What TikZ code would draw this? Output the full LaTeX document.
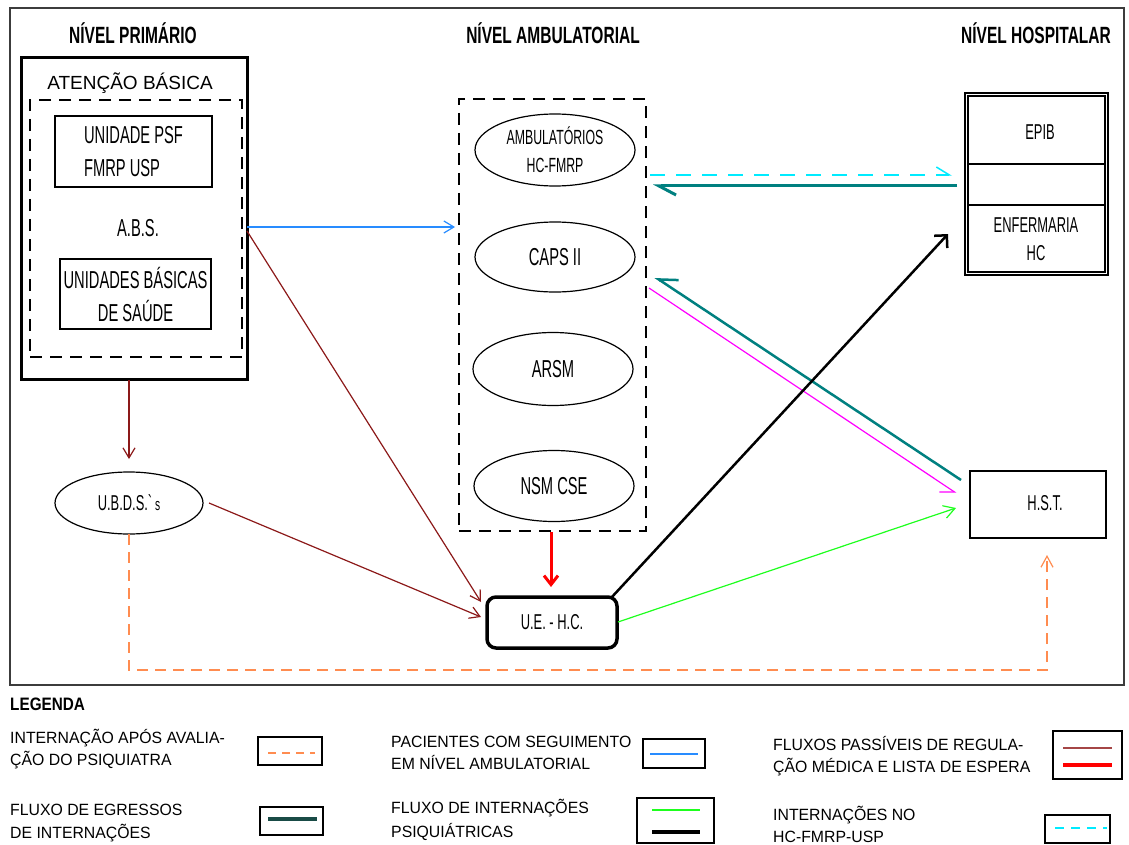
\documentclass[tikz,border=0pt]{standalone}
\usepackage{fontspec}
\setmainfont{Liberation Sans}
\newfontfamily\cnd[FakeStretch=0.6]{Liberation Sans}
\newfontfamily\hdf[FakeStretch=0.66]{Liberation Sans}
\newfontfamily\lgf[FakeStretch=0.85]{Liberation Sans}
\newfontfamily\lgtext[FakeStretch=0.97]{Liberation Sans}
\usetikzlibrary{arrows.meta,shapes.geometric}

\definecolor{brownline}{RGB}{140,25,25}
\definecolor{legbrown}{RGB}{165,70,70}
\definecolor{flowred}{RGB}{255,0,0}
\definecolor{flowblue}{RGB}{40,140,255}
\definecolor{floworange}{RGB}{255,140,80}
\definecolor{flowteal}{RGB}{0,128,128}
\definecolor{legteal}{RGB}{25,75,70}
\definecolor{flowcyan}{RGB}{0,235,255}
\definecolor{flowgreen}{RGB}{30,255,30}
\definecolor{flowmag}{RGB}{255,0,255}
\definecolor{framegray}{RGB}{60,60,60}

\begin{document}
\begin{tikzpicture}[x=1pt,y=-1pt,
  box/.style={draw, inner sep=0pt, outer sep=0pt},
  oval/.style={draw, ellipse, inner sep=0pt, outer sep=0pt, line width=1.2pt},
  dbox/.style={draw, inner sep=0pt, outer sep=0pt, line width=1.3pt, dash pattern=on 12pt off 8pt},
  head/.style={font=\hdf\bfseries\fontsize{23.5}{26}\selectfont, inner sep=0pt},
  body/.style={font=\cnd\fontsize{24.5}{33}\selectfont, inner sep=0pt},
  small/.style={font=\cnd\fontsize{21.5}{28}\selectfont, inner sep=0pt},
  plain/.style={font=\fontsize{19}{22}\selectfont, inner sep=0pt},
  leg/.style={font=\lgtext\fontsize{16.3}{20}\selectfont, inner sep=0pt, anchor=base west},
  legbox/.style={draw, line width=1.4pt, inner sep=0pt, outer sep=0pt},
  thin/.style={line width=1.2pt},
  vtip/.style={-{Straight Barb[length=10pt,width=12pt]}}
]
\useasboundingbox (0,0) rectangle (1129,845);
\fill[white] (0,0) rectangle (1129,845);

% outer frame
\draw[framegray, line width=1.5pt] (10,8) rectangle (1124,685);

% column headings
\node[head] (hprim) at (133,33) {NÍVEL PRIMÁRIO};
\node[head] (hamb) at (553,33) {NÍVEL AMBULATORIAL};
\node[head] (hhosp) at (1036,33) {NÍVEL HOSPITALAR};

% primary level
\node[box, line width=3pt, minimum width=226pt, minimum height=321pt] (atb) at (134,218.5) {};
\node[plain] (atbt) at (130,83) {ATENÇÃO BÁSICA};
\node[dbox, minimum width=212pt, minimum height=257pt] (abs) at (136,228.5) {};
\node[box, line width=1.3pt, minimum width=157pt, minimum height=71pt, body, align=left] (psf) at (133.5,151.5) {UNIDADE PSF\\FMRP USP};
\node[body] (abst) at (138,228) {A.B.S.};
\node[box, line width=1.3pt, minimum width=151pt, minimum height=70pt, body, align=center] (ubs) at (135.5,294) {UNIDADES BÁSICAS\\DE SAÚDE};
\node[oval, minimum width=148pt, minimum height=62pt, small] (ubds) at (129,503) {U.B.D.S.\textasciigrave{\fontsize{17}{20}\selectfont s}};

% ambulatory level
\node[dbox, minimum width=187pt, minimum height=432pt] (amb) at (552.5,315) {};
\node[oval, minimum width=160pt, minimum height=72pt, font=\cnd\fontsize{20.5}{28}\selectfont, align=center] (ahc) at (555,150) {AMBULATÓRIOS\\HC-FMRP};
\node[oval, minimum width=160pt, minimum height=70pt, body] (caps) at (555,257) {CAPS II};
\node[oval, minimum width=160pt, minimum height=73pt, body] (arsm) at (553,369) {ARSM};
\node[oval, minimum width=160pt, minimum height=71pt, body] (nsm) at (554,486) {NSM CSE};
\node[box, line width=3.5pt, rounded corners=9pt, minimum width=130pt, minimum height=51pt, small] (ue) at (552,622.5) {U.E. - H.C.};

% hospital level
\node[box, line width=1.3pt, minimum width=143pt, minimum height=182pt] (hosp) at (1036.5,184) {};
\draw[line width=1.3pt] (968,96) rectangle (1105,272);
\node[box, line width=1.3pt, minimum width=137pt, minimum height=68pt] (epib) at (1036.5,130) {};
\node[small] (epibt) at (1040,132) {EPIB};
\node[box, line width=1.3pt, minimum width=137pt, minimum height=67pt] (enf) at (1036.5,238.5) {};
\node[small, align=center] (enft) at (1036,239) {ENFERMARIA\\HC};
\node[box, line width=1.5pt, minimum width=136pt, minimum height=67pt] (hst) at (1038,504.5) {};
\node[small] (hstt) at (1045,503) {H.S.T.};

% connector end points
\coordinate (blueS) at (247,227);
\coordinate (blueE) at (455,227);
\coordinate (brA) at (247,231);
\coordinate (brAE) at (481,602);
\coordinate (brV) at (129,380);
\coordinate (brVE) at (129,459);
\coordinate (brU) at (209,503);
\coordinate (brUE) at (481,617);
\coordinate (redS) at (551,532);
\coordinate (redE) at (551,587);
\coordinate (orS) at (129,534);
\coordinate (orE) at (1047,555);
\coordinate (cyS) at (650,175);
\coordinate (cyE) at (952,175);
\coordinate (tlS) at (957,186);
\coordinate (tlE) at (653,186);
\coordinate (tdS) at (961,480);
\coordinate (tdE) at (655,277);
\coordinate (mgS) at (649,288);
\coordinate (mgE) at (956,493);
\coordinate (grS) at (618,622);
\coordinate (grE) at (956,508);
\coordinate (bkS) at (611,598);
\coordinate (bkE) at (948,234);

% flows
\draw[flowblue, thin, vtip] (blueS) -- (blueE);
\draw[brownline, thin, vtip] (brA) -- (brAE);
\draw[brownline, thin, vtip] (brV) -- (brVE);
\draw[brownline, thin, vtip] (brU) -- (brUE);
\draw[flowred, line width=3pt, -{Straight Barb[length=9pt,width=14pt]}] (redS) -- (redE);
\draw[floworange, thin, dash pattern=on 11pt off 7pt, -{Straight Barb[length=11pt,width=12pt]}] (orS) -- (129,670) -- (1047,670) -- (orE);
\draw[flowcyan, line width=1.5pt, dash pattern=on 15pt off 11pt, -{Straight Barb[left,length=13pt,width=16pt]}] (cyS) -- (cyE);
\draw[flowteal, line width=3pt, -{Straight Barb[left,length=17pt,width=18pt]}] (tlS) -- (tlE);
\draw[flowteal, line width=2.5pt, -{Straight Barb[right,length=17pt,width=21pt]}] (tdS) -- (tdE);
\draw[flowmag, thin, -{Straight Barb[right,length=12.5pt,width=17pt]}] (mgS) -- (mgE);
\draw[flowgreen, thin, -{Straight Barb[length=11pt,width=13pt]}] (grS) -- (grE);
\draw[black, line width=2.5pt, -{Straight Barb[length=9pt,width=18pt]}] (bkS) -- (bkE);

% legend
\node[font=\lgf\bfseries\fontsize{18}{20}\selectfont, inner sep=0pt, anchor=base west] (legt) at (10,710) {LEGENDA};

\node[leg] (l1a) at (10,743) {INTERNAÇÃO APÓS AVALIA-};
\node[leg] (l1b) at (10,765) {ÇÃO DO PSIQUIATRA};
\node[leg] (l2a) at (10,815) {FLUXO DE EGRESSOS};
\node[leg] (l2b) at (10,838) {DE INTERNAÇÕES};
\node[leg] (l3a) at (391,747) {PACIENTES COM SEGUIMENTO};
\node[leg] (l3b) at (391,769) {EM NÍVEL AMBULATORIAL};
\node[leg] (l4a) at (391,813) {FLUXO DE INTERNAÇÕES};
\node[leg] (l4b) at (391,837) {PSIQUIÁTRICAS};
\node[leg] (l5a) at (773,750) {FLUXOS PASSÍVEIS DE REGULA-};
\node[leg] (l5b) at (773,772) {ÇÃO MÉDICA E LISTA DE ESPERA};
\node[leg] (l6a) at (773,820) {INTERNAÇÕES NO};
\node[leg] (l6b) at (773,842) {HC-FMRP-USP};

\node[legbox, minimum width=64pt, minimum height=28pt] (lb1) at (290,751) {};
\draw[floworange, line width=1.8pt, dash pattern=on 8pt off 6pt] (268,753) -- (315,753);
\node[legbox, minimum width=63pt, minimum height=28pt] (lb2) at (291.5,821) {};
\draw[legteal, line width=3.5pt] (268,819) -- (317,819);
\node[legbox, minimum width=62pt, minimum height=29pt] (lb3) at (674,753.5) {};
\draw[flowblue, line width=1.5pt] (650,754) -- (698,754);
\node[legbox, minimum width=77pt, minimum height=45pt] (lb4) at (675.5,820.5) {};
\draw[flowgreen, line width=2pt] (652,810) -- (700,810);
\draw[black, line width=3.5pt] (652,832) -- (700,832);
\node[legbox, minimum width=69pt, minimum height=48pt] (lb5) at (1087.5,755) {};
\draw[legbrown, line width=2.5pt] (1063,748) -- (1112,748);
\draw[flowred, line width=3.5pt] (1063,765) -- (1112,765);
\node[legbox, minimum width=65pt, minimum height=28pt] (lb6) at (1077.5,829) {};
\draw[flowcyan, line width=2pt, dash pattern=on 9pt off 7pt] (1055,828) -- (1107,828);
\end{tikzpicture}
\end{document}
